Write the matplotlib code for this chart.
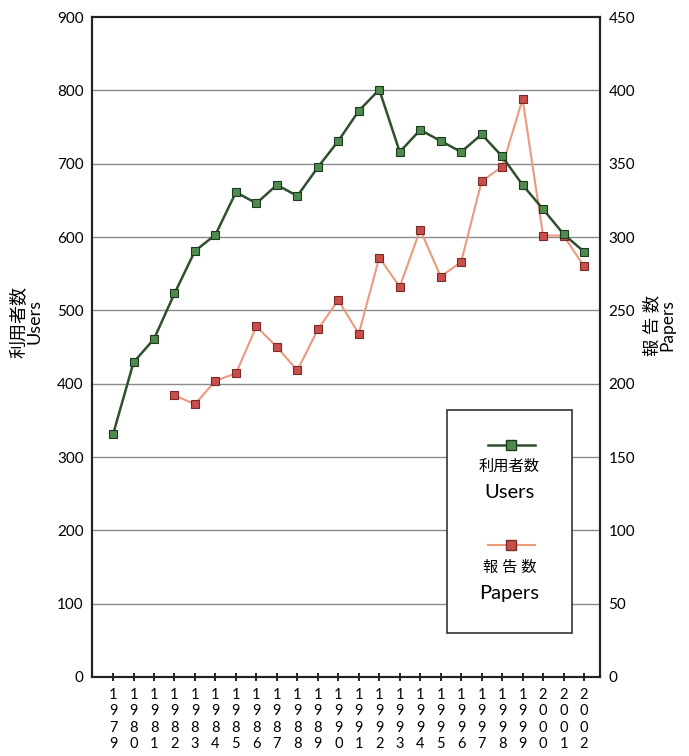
import matplotlib
matplotlib.use('Agg')
import matplotlib.pyplot as plt
from matplotlib.patches import Rectangle

plt.rcParams['font.family'] = ['Lato', 'Noto Sans CJK JP', 'DejaVu Sans']

# data
years = list(range(1979, 2003))
users = [331, 429, 461, 523, 581, 603, 661, 646, 671, 656, 695, 731, 772, 801,
         716, 746, 731, 716, 740, 710, 671, 638, 604, 580]
paper_years = list(range(1982, 2003))
papers = [192, 186, 202, 207, 239, 225, 209, 237, 257, 234, 286,
          266, 305, 273, 283, 338, 348, 394, 301, 301, 280]

green_line = '#2f4f2f'
green_face = '#4f8a4f'
red_line = '#ec9a7e'
red_face = '#c9504a'

fig = plt.figure(figsize=(6.89, 7.56), dpi=100)
ax1 = fig.add_axes([0.1335, 0.1045, 0.7373, 0.873])
ax2 = ax1.twinx()

xi = [years.index(y) for y in years]
pxi = [years.index(y) for y in paper_years]

ax1.set_zorder(2)
ax1.patch.set_visible(False)

ax1.plot(xi, users, '-s', color=green_line, lw=1.8, ms=6,
         mfc=green_face, mec='#1e3a1e', mew=0.8, zorder=4)
# papers use the right axis (0-450), drawn on ax1 scaled x2 so it sits above the grid
ax1.plot(pxi, [p * 2 for p in papers], '-s', color=red_line, lw=1.5, ms=6,
         mfc=red_face, mec='#7a2a28', mew=0.8, zorder=3)

ax1.set_ylim(0, 900)
ax2.set_ylim(0, 450)
ax1.set_xlim(-1.03, 23.78)
ax1.set_yticks(range(0, 901, 100))
ax2.set_yticks(range(0, 451, 50))
for y in range(100, 900, 100):
    ax2.axhline(y / 2, color='#8a8a8a', lw=1.0, zorder=1)

ax1.set_xticks(xi)
ax1.set_xticklabels(['\n'.join(str(y)) for y in years], fontsize=10.5,
                    linespacing=1.2)
ax1.tick_params(axis='x', direction='inout', length=6, width=1.2, pad=5)
ax1.tick_params(axis='y', length=0, pad=6, labelsize=11)
ax2.tick_params(axis='y', length=0, pad=6, labelsize=11)

for a in (ax1, ax2):
    for s in a.spines.values():
        s.set_linewidth(1.5)
        s.set_color('#222222')

ax1.set_ylabel('利用者数\nUsers', fontsize=13, linespacing=0.95)
ax1.yaxis.set_label_coords(-0.097, 0.538)
ax2.set_ylabel('報 告 数\nPapers', fontsize=12.5, linespacing=0.95)
ax2.yaxis.set_label_coords(1.085, 0.533)

# legend box
ax1.add_patch(Rectangle((0.699, 0.0667), 0.246, 0.338, transform=ax1.transAxes,
                        facecolor='white', edgecolor='#333333', lw=1.2, zorder=5))
ax1.plot([0.78, 0.825, 0.872], [0.3515] * 3, transform=ax1.transAxes,
         color=green_line, lw=1.8, marker='s', markevery=[1], ms=7,
         mfc=green_face, mec='#1e3a1e', zorder=6)
ax1.plot([0.78, 0.825, 0.872], [0.2] * 3, transform=ax1.transAxes,
         color=red_line, lw=1.5, marker='s', markevery=[1], ms=7,
         mfc=red_face, mec='#7a2a28', zorder=6)
ax1.text(0.822, 0.318, '利用者数', transform=ax1.transAxes, ha='center',
         va='center', fontsize=11, zorder=6)
ax1.text(0.822, 0.279, 'Users', transform=ax1.transAxes, ha='center',
         va='center', fontsize=14.5, zorder=6)
ax1.text(0.822, 0.165, '報 告 数', transform=ax1.transAxes, ha='center',
         va='center', fontsize=11, zorder=6)
ax1.text(0.822, 0.126, 'Papers', transform=ax1.transAxes, ha='center',
         va='center', fontsize=14.5, zorder=6)

plt.savefig('out.png', dpi=100)
